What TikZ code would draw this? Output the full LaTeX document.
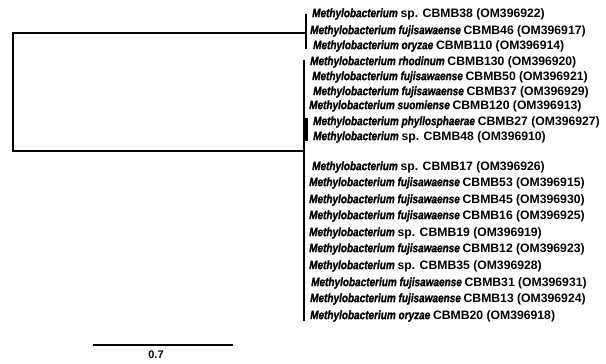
\documentclass[tikz,border=0pt]{standalone}
\usepackage{fontspec}
\setmainfont{Liberation Sans}
\newfontfamily\gnarrow{Liberation Sans}[FakeStretch=0.82, BoldItalicFont={Liberation Sans Bold Italic}, BoldItalicFeatures={FakeBold=1.2}]
\newcommand\sci[1]{{\gnarrow\bfseries\itshape #1}}
\begin{document}
\begin{tikzpicture}[x=1pt,y=-1pt,
  branch/.style={line width=2pt, line cap=rect},
  cladebar/.style={line width=1.6pt},
  leaf/.style={anchor=west, inner sep=0pt, font=\fontsize{12.2}{14}\selectfont\bfseries},
  scalelbl/.style={inner sep=0pt, font=\fontsize{11}{13}\selectfont\bfseries}]
\useasboundingbox (0,0) rectangle (606,364);
% tree coordinates
\coordinate (rt) at (13,33);
\coordinate (rb) at (13,151);
\coordinate (c1) at (306,33);
\coordinate (c1t) at (306,14);
\coordinate (c1b) at (306,49);
\coordinate (c2) at (304,151);
\coordinate (c2t) at (304,60);
\coordinate (c2b) at (304,321);
\coordinate (s1t) at (306,118);
\coordinate (s1b) at (306,141);
% leaves
\node[leaf] (l1) at (312,14) {\sci{Methylobacterium }sp. CBMB38 (OM396922)};
\node[leaf] (l2) at (310,31) {\sci{Methylobacterium fujisawaense }CBMB46 (OM396917)};
\node[leaf] (l3) at (313,46) {\sci{Methylobacterium oryzae }CBMB110 (OM396914)};
\node[leaf] (l4) at (310,62) {\sci{Methylobacterium rhodinum }CBMB130 (OM396920)};
\node[leaf] (l5) at (312,77) {\sci{Methylobacterium fujisawaense }CBMB50 (OM396921)};
\node[leaf] (l6) at (313,92) {\sci{Methylobacterium fujisawaense }CBMB37 (OM396929)};
\node[leaf] (l7) at (309,106) {\sci{Methylobacterium suomiense }CBMB120 (OM396913)};
\node[leaf] (l8) at (313,122) {\sci{Methylobacterium phyllosphaerae }CBMB27 (OM396927)};
\node[leaf] (l9) at (313,137) {\sci{Methylobacterium }sp. CBMB48 (OM396910)};
\node[leaf] (l10) at (312,167) {\sci{Methylobacterium }sp. CBMB17 (OM396926)};
\node[leaf] (l11) at (309,183) {\sci{Methylobacterium fujisawaense }CBMB53 (OM396915)};
\node[leaf] (l12) at (309,200) {\sci{Methylobacterium fujisawaense }CBMB45 (OM396930)};
\node[leaf] (l13) at (309,216) {\sci{Methylobacterium fujisawaense }CBMB16 (OM396925)};
\node[leaf] (l14) at (309,233) {\sci{Methylobacterium }sp. CBMB19 (OM396919)};
\node[leaf] (l15) at (309,249) {\sci{Methylobacterium fujisawaense }CBMB12 (OM396923)};
\node[leaf] (l16) at (309,266) {\sci{Methylobacterium }sp. CBMB35 (OM396928)};
\node[leaf] (l17) at (311,283) {\sci{Methylobacterium fujisawaense }CBMB31 (OM396931)};
\node[leaf] (l18) at (310,299) {\sci{Methylobacterium fujisawaense }CBMB13 (OM396924)};
\node[leaf] (l19) at (310,316) {\sci{Methylobacterium oryzae }CBMB20 (OM396918)};
% branches
\draw[branch] (rt) -- (rb);
\draw[branch] (rt) -- (c1);
\draw[branch] (rb) -- (c2);
\draw[cladebar] (c1t) -- (c1b);
\draw[cladebar] (c2t) -- (c2b);
\draw[line width=3pt] (s1t) -- (s1b);
% scale bar
\coordinate (sbl) at (93,345);
\coordinate (sbr) at (233,345);
\draw[line width=2.6pt] (sbl) -- (sbr);
\node[scalelbl] (sblabel) at (156,355) {0.7};
\end{tikzpicture}
\end{document}
